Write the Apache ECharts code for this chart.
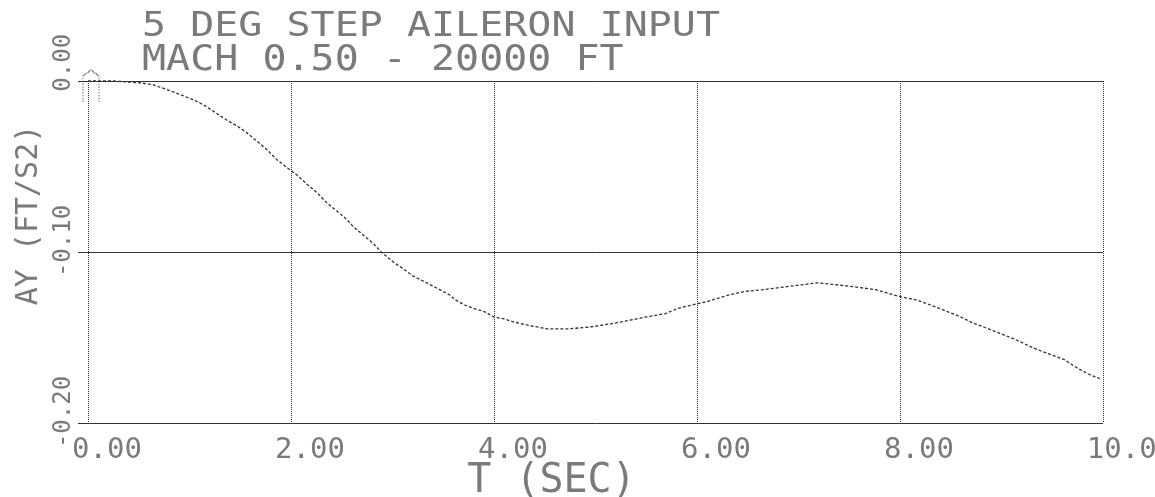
<!DOCTYPE html>
<html>
<head>
<meta charset="utf-8">
<title>5 DEG STEP AILERON INPUT</title>
<script src="https://cdn.jsdelivr.net/npm/echarts@6/dist/echarts.min.js"></script>
<style>
  html, body { margin: 0; padding: 0; background: #ffffff; }
  #chart { width: 1155px; height: 497px; }
</style>
</head>
<body>
<div id="chart"></div>
<script>
// Lateral acceleration response to a 5 deg step aileron input
const titleLines = ['5 DEG STEP AILERON INPUT', 'MACH 0.50 - 20000 FT'];
const xAxisTitle = 'T (SEC)';
const yAxisTitle = 'AY (FT/S2)';

// time, seconds
const timeSec = [
  0, 0.25, 0.50, 0.63, 0.73, 0.82, 0.91, 1.04, 1.14, 1.27, 1.37, 1.46, 1.56, 1.66,
  1.76, 1.86, 1.97, 2.06, 2.15, 2.25, 2.35, 2.45, 2.55, 2.61, 2.71, 2.81, 2.89,
  3.01, 3.11, 3.20, 3.27, 3.40, 3.56, 3.62, 3.71, 3.80, 3.91, 4.00, 4.09, 4.20,
  4.35, 4.53, 4.71, 4.93, 5.15, 5.33, 5.50, 5.69, 5.81, 5.95, 6.10, 6.21, 6.32,
  6.48, 6.65, 6.92, 7.19, 7.50, 7.76, 7.99, 8.16, 8.30, 8.43, 8.58, 8.70, 8.83,
  8.96, 9.13, 9.31, 9.44, 9.62, 9.75, 9.88, 9.97
];
// AY, ft/s^2
const ayValues = [
  0, 0, -0.001, -0.002, -0.004, -0.006, -0.008, -0.011, -0.014, -0.019, -0.023,
  -0.026, -0.030, -0.035, -0.040, -0.046, -0.051, -0.055, -0.060, -0.065, -0.071,
  -0.076, -0.081, -0.085, -0.090, -0.095, -0.100, -0.106, -0.110, -0.114, -0.116,
  -0.120, -0.125, -0.128, -0.131, -0.133, -0.135, -0.138, -0.139, -0.141, -0.143,
  -0.145, -0.145, -0.144, -0.142, -0.140, -0.138, -0.136, -0.133, -0.131, -0.129,
  -0.127, -0.125, -0.123, -0.122, -0.120, -0.118, -0.120, -0.122, -0.126, -0.128,
  -0.131, -0.134, -0.1375, -0.141, -0.144, -0.147, -0.151, -0.156, -0.159, -0.163,
  -0.168, -0.172, -0.174
];

// tick labels
const xTickValues = [0, 2, 4, 6, 8, 10];
const xTickLabels = ['0.00', '2.00', '4.00', '6.00', '8.00', '10.00'];
const yTickValues = [0, -0.1, -0.2];
const yTickLabels = [' 0.00', '-0.10', '-0.20'];

const MONO = '"DejaVu Sans Mono", "Liberation Mono", monospace';
const INK = '#333333';
const TEXT = '#7a7a7a';

function tickLabel(values, labels, v) {
  for (let i = 0; i < values.length; i++) {
    if (Math.abs(values[i] - v) < 1e-9) return labels[i];
  }
  return '';
}

const seriesData = timeSec.map((t, i) => [t, ayValues[i]]);
// plotter start marker on the first point
seriesData[0] = {
  value: seriesData[0],
  symbol: 'path://M0,32 L0,6 L8,0 L16,6 L16,32',
  symbolSize: [16, 32],
  symbolOffset: [3, 5],
  itemStyle: { color: 'rgba(0,0,0,0)', borderColor: INK, borderWidth: 1, borderType: 'dotted' }
};

const chart = echarts.init(document.getElementById('chart'), null, { renderer: 'canvas' });

chart.setOption({
  animation: false,
  backgroundColor: '#ffffff',
  grid: { left: 88, right: 52, top: 81, bottom: 74, containLabel: false, outerBoundsMode: 'none' },
  graphic: [
    {
      type: 'text', x: 142, y: 10, scaleY: 0.86,
      style: { text: titleLines[0], font: '40px ' + MONO, fill: TEXT, align: 'left', verticalAlign: 'top' }
    },
    {
      type: 'text', x: 142, y: 43, scaleY: 0.88,
      style: { text: titleLines[1], font: '40px ' + MONO, fill: TEXT, align: 'left', verticalAlign: 'top' }
    }
  ],
  xAxis: {
    type: 'value',
    min: 0,
    max: 10,
    interval: 2,
    name: xAxisTitle,
    nameLocation: 'middle',
    nameGap: 39,
    nameMoveOverlap: false,
    nameTextStyle: {
      fontFamily: MONO, fontSize: 40, color: TEXT,
      verticalAlign: 'top', padding: [0, 88, 0, 0]
    },
    axisLine: { show: true, lineStyle: { color: INK, width: 1 } },
    axisTick: { show: true, length: 7, lineStyle: { color: INK, type: 'dotted' } },
    splitLine: { show: true, lineStyle: { color: INK, width: 1, type: 'dotted' } },
    axisLabel: {
      margin: 13,
      color: TEXT,
      fontFamily: MONO,
      fontSize: 29,
      formatter: v => {
        const s = tickLabel(xTickValues, xTickLabels, v);
        return s.length > 4 ? '{w|' + s + '}' : '{n|' + s + '}';
      },
      rich: {
        n: { fontFamily: MONO, fontSize: 29, color: TEXT, padding: [0, 0, 0, 38] },
        w: { fontFamily: MONO, fontSize: 29, color: TEXT, padding: [0, 0, 0, 55] }
      }
    }
  },
  yAxis: {
    type: 'value',
    min: -0.2,
    max: 0,
    interval: 0.1,
    name: yAxisTitle,
    nameLocation: 'middle',
    nameGap: 44,
    nameMoveOverlap: false,
    nameTextStyle: {
      fontFamily: MONO, fontSize: 30, color: TEXT, padding: [0, 0, 0, 74]
    },
    axisLine: { show: false },
    axisTick: { show: true, length: 10, lineStyle: { color: INK } },
    splitLine: { show: true, lineStyle: { color: INK, width: 1, type: 'solid' } },
    axisLabel: {
      rotate: 90,
      margin: 12,
      color: TEXT,
      fontFamily: MONO,
      fontSize: 24,
      padding: [0, 0, 0, 22],
      formatter: v => tickLabel(yTickValues, yTickLabels, v)
    }
  },
  series: [
    {
      type: 'line',
      data: seriesData,
      symbol: 'none',
      showSymbol: true,
      clip: false,
      lineStyle: { color: INK, width: 1.3, type: [3, 2] },
      emphasis: { disabled: true }
    }
  ]
});
</script>
</body>
</html>
